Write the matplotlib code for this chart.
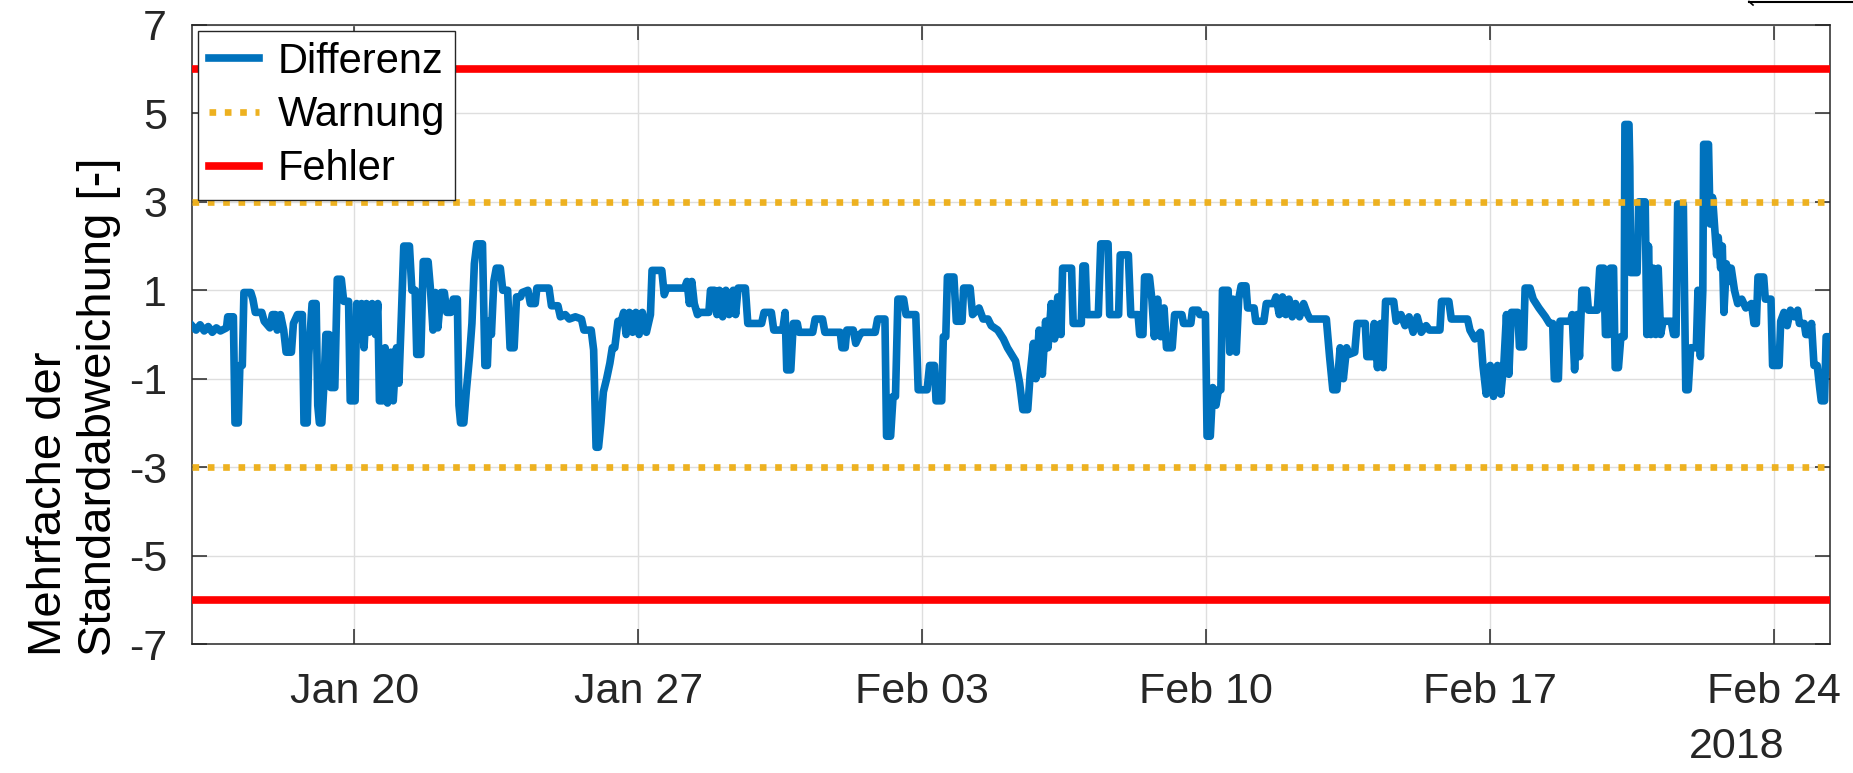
import pandas as pd
import matplotlib
matplotlib.use("Agg")
import matplotlib.pyplot as plt
import matplotlib.dates as mdates
from matplotlib.lines import Line2D

plt.rcParams['font.family'] = ['Liberation Sans', 'DejaVu Sans']
plt.rcParams['axes.unicode_minus'] = False

# ---------------------------------------------------------------
# Data
# ---------------------------------------------------------------
start = pd.Timestamp('2018-01-16 00:00')
end = pd.Timestamp('2018-02-25 09:00')

# days since start
t_days = [
    0.00, 0.10, 0.20, 0.30, 0.40, 0.50, 0.60, 0.70, 0.85,
    0.88, 1.02, 1.06, 1.14, 1.18, 1.24, 1.28, 1.45, 1.50,
    1.56, 1.72, 1.78, 1.92, 1.98, 2.06, 2.10, 2.18, 2.26,
    2.32, 2.45, 2.50, 2.60, 2.72, 2.76, 2.84, 2.88, 2.96, 3.06,
    3.10, 3.14, 3.20, 3.26, 3.30, 3.38, 3.42, 3.52, 3.58, 3.68,
    3.74, 3.86, 3.90, 4.02, 4.06, 4.12, 4.18, 4.24, 4.30, 4.36, 4.44, 4.52, 4.58,
    4.62, 4.70, 4.76, 4.82, 4.90, 4.96, 5.04, 5.10,
    5.16, 5.22, 5.36, 5.42, 5.50, 5.54, 5.64, 5.70, 5.82,
    5.88, 5.94, 6.00, 6.06, 6.14, 6.22, 6.28, 6.38, 6.44, 6.54,
    6.58, 6.62, 6.70, 6.76, 6.84, 6.90, 6.96, 7.02, 7.16,
    7.22, 7.28, 7.32, 7.38, 7.44, 7.50, 7.60, 7.66, 7.78,
    7.84, 7.94, 8.00, 8.10,
    8.14, 8.28, 8.34, 8.46, 8.50, 8.80, 8.86, 9.02,
    9.08, 9.20, 9.30, 9.45, 9.60, 9.66, 9.84, 9.90,
    9.96, 10.02, 10.08, 10.14, 10.22, 10.30, 10.36, 10.42,
    10.50, 10.58, 10.64, 10.70, 10.78, 10.86, 10.94, 11.02, 11.10, 11.20, 11.30,
    11.34, 11.58, 11.64, 11.70, 12.14, 12.20, 12.26, 12.32, 12.38, 12.46,
    12.52, 12.74, 12.78, 12.88, 12.94, 13.00, 13.08, 13.16, 13.24, 13.34, 13.40,
    13.46, 13.64, 13.70, 14.04, 14.10, 14.28, 14.34, 14.56,
    14.62, 14.66, 14.76, 14.82, 14.92, 14.96, 15.30, 15.36, 15.54,
    15.60, 15.98, 16.02, 16.10, 16.14, 16.30,
    16.36, 16.46, 16.52, 16.84, 16.90, 17.08, 17.12, 17.22, 17.28, 17.34,
    17.40, 17.54, 17.60, 17.84, 17.90, 18.12, 18.18, 18.30, 18.34, 18.48,
    18.52, 18.58, 18.62, 18.78, 18.84, 18.98, 19.02, 19.18,
    19.24, 19.40, 19.50, 19.62, 19.70, 19.86, 20.00, 20.10, 20.30,
    20.40, 20.48, 20.60, 20.66, 20.74, 20.80, 20.88, 20.96, 21.04,
    21.10, 21.18, 21.26, 21.34, 21.42, 21.46, 21.68, 21.72, 21.92,
    21.96, 22.02, 22.06, 22.34, 22.40, 22.58, 22.62, 22.84,
    22.88, 23.08, 23.14, 23.32, 23.36, 23.44, 23.48, 23.60,
    23.66, 23.72, 23.80, 23.88, 23.96, 24.02, 24.16, 24.22, 24.40,
    24.44, 24.62, 24.66, 24.80, 24.84, 24.98, 25.02, 25.10, 25.16, 25.24, 25.30, 25.36,
    25.40, 25.54, 25.58, 25.66, 25.74, 25.80, 25.86, 25.98,
    26.02, 26.18, 26.22, 26.42, 26.48, 26.66, 26.72, 26.80, 26.88, 26.96, 27.04,
    27.12, 27.20, 27.30, 27.40, 27.50, 27.56, 27.96,
    28.04, 28.12, 28.22, 28.30, 28.38, 28.46, 28.52, 28.66,
    28.72, 28.92, 28.96, 29.10, 29.14, 29.22, 29.30, 29.36,
    29.42, 29.62, 29.68, 29.80, 29.90, 30.00, 30.10, 30.20, 30.30, 30.42,
    30.50, 30.76, 30.80, 30.98, 31.04, 31.44, 31.50, 31.62, 31.76,
    31.82, 31.90, 32.00, 32.08, 32.18, 32.26, 32.34, 32.40,
    32.46, 32.52, 32.68, 32.72, 32.82, 32.86, 32.98, 33.06, 33.20, 33.36,
    33.46, 33.54, 33.58, 33.68, 33.72, 33.98, 34.02, 34.08, 34.14, 34.20,
    34.26, 34.38, 34.42, 34.64, 34.70, 34.80, 34.84, 34.92, 34.96, 35.04,
    35.08, 35.16, 35.22, 35.30, 35.32, 35.42, 35.44, 35.46, 35.62,
    35.66, 35.82, 35.86, 35.90, 35.96, 36.02, 36.08, 36.14, 36.20,
    36.26, 36.46, 36.52, 36.58, 36.62, 36.76, 36.82, 36.88,
    36.94, 37.08, 37.12, 37.18, 37.24, 37.26, 37.38, 37.42, 37.48, 37.54,
    37.58, 37.62, 37.68, 37.72, 37.76, 37.82, 37.88, 37.94, 38.02, 38.10,
    38.20, 38.30, 38.44, 38.50, 38.56, 38.60, 38.74, 38.78, 38.92,
    38.96, 39.12, 39.16, 39.24, 39.32, 39.40, 39.50, 39.58, 39.62, 39.74,
    39.78, 39.88, 39.92, 39.98, 40.06, 40.12, 40.16, 40.24, 40.28, 40.375,
]

diff_vals = [
    0.20, 0.10, 0.22, 0.08, 0.18, 0.05, 0.15, 0.08, 0.15,
    0.40, 0.40, -2.00, -2.00, -0.70, -0.70, 0.95, 0.95, 0.80,
    0.50, 0.50, 0.30, 0.15, 0.45, 0.45, 0.10, 0.45, 0.10,
    -0.40, -0.40, 0.25, 0.45, 0.45, -2.00, -2.00, -0.45, 0.70, 0.70,
    -1.60, -2.00, -2.00, -1.00, 0.00, 0.00, -1.20, -1.20, 1.25, 1.25,
    0.75, 0.75, -1.50, -1.50, 0.70, 0.00, 0.70, -0.30, 0.70, 0.05, 0.70, 0.00, 0.70,
    -1.50, -1.50, -0.30, -1.55, -0.40, -1.50, -0.30, -1.10,
    0.40, 2.00, 2.00, 1.00, 1.00, -0.45, -0.45, 1.65, 1.65,
    1.00, 0.10, 0.95, 0.15, 0.95, 0.95, 0.50, 0.50, 0.80, 0.80,
    -1.60, -2.00, -2.00, -1.30, -0.50, 0.25, 1.60, 2.05, 2.05,
    -0.70, -0.70, 0.30, 0.00, 1.20, 1.50, 1.50, 1.00, 1.00,
    -0.30, -0.30, 0.85, 0.85,
    0.95, 1.00, 0.70, 0.70, 1.05, 1.05, 0.65, 0.65,
    0.40, 0.45, 0.35, 0.40, 0.35, 0.10, 0.10, -0.35,
    -2.55, -2.55, -2.00, -1.30, -1.00, -0.65, -0.30, -0.30,
    0.30, 0.30, 0.50, 0.00, 0.50, 0.05, 0.50, 0.00, 0.50, 0.05, 0.45,
    1.45, 1.45, 0.90, 1.05, 1.05, 1.20, 0.70, 1.20, 0.70, 0.45,
    0.50, 0.50, 1.00, 1.00, 0.45, 1.00, 0.40, 1.00, 0.45, 1.00, 0.45,
    1.05, 1.05, 0.25, 0.25, 0.50, 0.50, 0.10, 0.10,
    0.50, -0.80, -0.80, 0.25, 0.25, 0.05, 0.05, 0.35, 0.35,
    0.05, 0.05, -0.30, -0.30, 0.10, 0.10,
    -0.20, 0.00, 0.05, 0.05, 0.35, 0.35, -2.30, -2.30, -1.40, -1.40,
    0.80, 0.80, 0.45, 0.45, -1.25, -1.25, -0.70, -0.70, -1.50, -1.50,
    -0.05, -0.05, 1.30, 1.30, 0.30, 0.30, 1.05, 1.05,
    0.45, 0.60, 0.35, 0.35, 0.20, 0.10, -0.10, -0.30, -0.60,
    -1.10, -1.70, -1.70, -0.90, -0.20, -1.00, 0.10, -0.90, 0.30,
    -0.30, 0.70, -0.10, 0.85, 0.00, 1.50, 1.50, 0.25, 0.25,
    1.55, 1.55, 0.45, 0.45, 2.05, 2.05, 0.45, 0.45,
    1.80, 1.80, 0.45, 0.45, 0.00, 0.00, 1.30, 1.30,
    0.80, -0.05, 0.80, -0.05, 0.60, -0.30, -0.30, 0.45, 0.45,
    0.25, 0.25, 0.55, 0.55, 0.45, 0.45, -2.30, -2.30, -1.20, -1.60, -1.25, -1.25,
    1.00, 1.00, -0.40, 0.80, -0.40, 0.80, 1.10, 1.10,
    0.60, 0.60, 0.30, 0.30, 0.70, 0.70, 0.85, 0.45, 0.85, 0.45, 0.80,
    0.40, 0.70, 0.40, 0.70, 0.45, 0.35, 0.35,
    -0.50, -1.25, -1.25, -0.30, -1.00, -0.30, -0.45, -0.40,
    0.25, 0.25, -0.50, -0.50, 0.25, -0.75, 0.25, -0.75,
    0.75, 0.75, 0.30, 0.45, 0.20, 0.40, 0.05, 0.40, 0.05, 0.20,
    0.10, 0.10, 0.75, 0.75, 0.35, 0.35, 0.10, -0.10, 0.05,
    -0.70, -1.35, -0.70, -1.40, -0.70, -1.35, -0.60, 0.45,
    -0.90, 0.50, 0.50, -0.28, -0.28, 1.05, 1.05, 0.80, 0.60, 0.40,
    0.25, 0.25, -1.00, -1.00, 0.30, 0.30, 0.45, -0.80, 0.45, -0.50,
    1.00, 1.00, 0.55, 0.55, 1.50, 1.50, 0.00, 0.00, 1.50, 1.50,
    -0.75, -0.75, -0.05, -0.05, 4.75, 4.75, 3.80, 1.40, 1.40,
    3.00, 3.00, 0.00, 2.00, 0.00, 1.50, 0.00, 1.50, 0.00,
    0.30, 0.30, 0.00, 0.00, 2.95, 2.95, -1.25, -1.25,
    -0.30, -0.30, 1.00, -0.50, 1.00, 4.30, 4.30, 2.50, 3.10, 2.30,
    1.80, 2.20, 1.50, 2.00, 0.50, 1.60, 1.20, 1.50, 1.00, 0.70,
    0.80, 0.60, 0.70, 0.25, 0.25, 1.30, 1.30, 0.80, 0.80,
    -0.70, -0.70, 0.30, 0.50, 0.20, 0.55, 0.40, 0.55, 0.25, 0.25,
    0.00, 0.00, 0.25, -0.70, -0.70, -1.20, -1.50, -1.50, -0.05, -0.05,
]

warn_level = 3
error_level = 6
y_ticks = [-7, -5, -3, -1, 1, 3, 5, 7]
x_tick_dates = ['2018-01-20', '2018-01-27', '2018-02-03',
                '2018-02-10', '2018-02-17', '2018-02-24']
legend_labels = ['Differenz', 'Warnung', 'Fehler']

# MATLAB default colours
c_blue = '#0072BD'
c_yellow = '#EDB120'
c_red = '#FF0000'
c_axis = '#262626'

times = start + pd.to_timedelta(t_days, unit='D')

# ---------------------------------------------------------------
# Plot
# ---------------------------------------------------------------
W, H = 1853, 773
fig = plt.figure(figsize=(W / 100, H / 100), dpi=100)
ax = fig.add_axes([192 / W, 129 / H, 1638 / W, 619 / H])

ax.plot(times, diff_vals, color=c_blue, lw=5.5, label=legend_labels[0], zorder=3)

dots = (0, (1, 1.3))
ax.axhline(warn_level, color=c_yellow, lw=4.8, ls=dots, dash_capstyle='butt',
           label=legend_labels[1], zorder=4)
ax.axhline(-warn_level, color=c_yellow, lw=4.8, ls=dots, dash_capstyle='butt', zorder=4)
ax.axhline(error_level, color=c_red, lw=5.5, label=legend_labels[2], zorder=4)
ax.axhline(-error_level, color=c_red, lw=5.5, zorder=4)

ax.set_xlim(start, end)
ax.set_ylim(-7, 7)
ax.set_yticks(y_ticks)
ax.set_xticks(pd.to_datetime(x_tick_dates))
ax.xaxis.set_major_formatter(mdates.DateFormatter('%b %d'))

ax.grid(True, color='#dedede', lw=1.0)
ax.set_axisbelow(True)

for s in ax.spines.values():
    s.set_color(c_axis)
    s.set_linewidth(1.1)
ax.tick_params(which='both', direction='in', top=True, right=True,
               length=11, width=1.1, color=c_axis, labelcolor=c_axis,
               labelsize=31)
ax.tick_params(axis='x', pad=20)
ax.tick_params(axis='y', pad=18)

leg = ax.legend(loc='upper left', fontsize=30, frameon=True, fancybox=False,
                edgecolor=c_axis, framealpha=1, borderaxespad=0.15,
                handlelength=1.2, handletextpad=0.45, labelspacing=0.33,
                borderpad=0.25)
leg.get_frame().set_linewidth(1.0)

fig.text(74 / W, (H - 656) / H, 'Mehrfache der\nStandardabweichung [-]',
         rotation=90, ha='center', va='bottom', multialignment='left',
         fontsize=34, linespacing=1.2, color='black')

fig.text(1737 / W, (H - 747) / H, '2018', ha='center', va='center',
         fontsize=31, color=c_axis)

# small leftover stroke in the top right corner of the original export
fig.add_artist(Line2D([1749 / W, 1.0], [771.5 / H, 771.5 / H],
                      transform=fig.transFigure, color='black', lw=1.5))
fig.add_artist(Line2D([1749 / W, 1753 / W], [771.5 / H, 768 / H],
                      transform=fig.transFigure, color='black', lw=1.2))

fig.savefig('out.png', dpi=100)
